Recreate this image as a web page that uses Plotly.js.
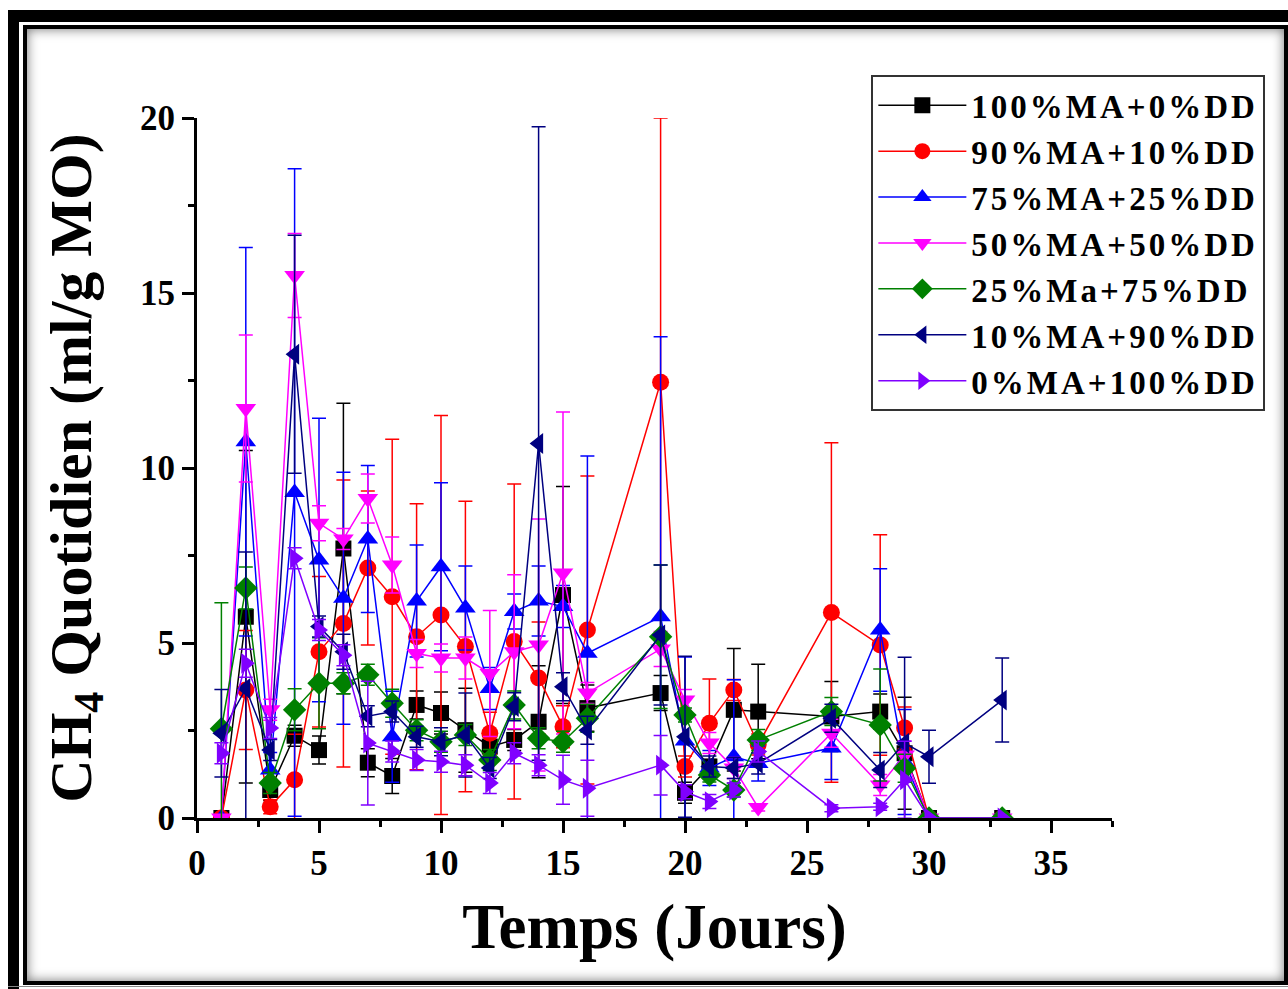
<!DOCTYPE html>
<html>
<head>
<meta charset="utf-8">
<script src="https://cdn.plot.ly/plotly-3.0.1.min.js"></script>
<style>
  html, body { margin: 0; padding: 0; background: #fff; }
  #wrap { position: relative; width: 1288px; height: 989px; overflow: hidden; }
  #chart { position: absolute; left: 0; top: 0; width: 1288px; height: 989px; }
  .frame { position: absolute; pointer-events: none; }
  .legendtext { letter-spacing: 3px; }
</style>
</head>
<body>
<div id="wrap">
  <div id="chart"></div>
  <div class="frame" style="left:8px; top:10px; width:11px; height:979px; background:#000;"></div>
  <div class="frame" style="left:8px; top:10px; width:1280px; height:12px; background:#000;"></div>
  <div class="frame" style="left:8px; top:986px; width:1280px; height:1px; background:#888;"></div>
  <div class="frame" style="left:23px; top:25px; width:1257px; height:952px; border:4px solid #000; box-shadow: inset 0 0 12px rgba(0,0,0,0.55);"></div>
</div>
<script>
// ---- data ----
const days = [1,2,3,4,5,6,7,8,9,10,11,12,13,14,15,16,19,20,21,22,23,26,28,29,30,33];

const seriesNames = ["100%MA+0%DD","90%MA+10%DD","75%MA+25%DD","50%MA+50%DD","25%Ma+75%DD","10%MA+90%DD","0%MA+100%DD"];

const ma100 = [0,5.75,0.8,2.35,1.94,7.7,1.58,1.2,3.23,3.0,2.51,2.04,2.23,2.75,6.37,3.14,3.57,0.72,1.47,3.09,3.04,2.9,3.04,1.85,0,0];
const ma100Err = [0,4.75,0.3,0.3,0.4,4.15,0.4,0.5,0.4,0.6,1.2,0.3,0.3,1.6,3.1,0.66,0.5,0.3,0.2,1.75,1.35,1.0,0.5,1.6,0,0];

const ma90 = [0,3.66,0.32,1.09,4.75,5.56,7.14,6.32,5.18,5.8,4.9,2.42,5.04,4.0,2.61,5.37,12.45,1.47,2.71,3.66,2.1,5.87,4.94,2.57,0,0];
const ma90Err = [0,1.7,0.2,1.3,2.15,4.1,2.2,4.5,3.8,5.7,4.15,0.6,4.5,1.6,0.6,4.4,7.55,0.3,1.26,0.3,0.3,4.85,3.15,0.6,0,0];

const ma75 = [0,10.75,1.37,9.3,7.37,6.28,7.97,2.32,6.2,7.18,6.0,3.7,5.9,6.2,6.04,4.71,5.75,2.2,1.43,1.75,1.56,2.0,5.37,1.6,0,0];
const ma75Err = [0,5.55,0.5,9.25,4.05,3.6,2.1,1.3,1.6,2.4,1.2,0.6,0.5,1.0,0.6,5.63,8.0,2.4,0.5,2.2,0.5,0.9,1.75,1.5,0,0];

const ma50 = [0,11.7,3.09,15.5,8.42,7.97,9.13,7.23,4.7,4.57,4.57,4.13,4.75,4.94,7.0,3.57,4.83,3.37,2.14,1.43,0.3,2.42,0.94,1.8,0,0];
const ma50Err = [0,2.1,0.3,1.2,0.5,0.3,0.7,0.8,0.4,0.4,0.6,1.8,2.2,3.6,4.6,0.3,0.5,0.3,0.3,0.3,0.1,0.4,0.3,0.4,0,0];

const ma25 = [2.55,6.57,1.0,3.09,3.85,3.85,4.09,3.28,2.51,2.18,2.37,1.66,3.23,2.28,2.18,2.85,5.18,2.94,1.23,0.8,2.23,3.04,2.66,1.42,0,0];
const ma25Err = [3.6,0.6,0.3,0.6,1.3,0.3,0.3,0.4,0.3,0.3,0.3,0.3,0.4,0.3,0.3,0.4,2.05,0.2,0.2,0.2,0.3,0.4,1.6,0.4,0,0];

const ma10 = [2.42,3.7,1.94,13.25,5.47,4.75,2.91,3.04,2.32,2.18,2.37,1.43,3.18,10.7,3.75,2.51,5.23,2.32,1.47,1.43,1.56,2.85,1.37,2.14,1.75,3.37];
const ma10Err = [1.25,3.9,0.3,3.4,0.3,0.5,0.3,0.3,0.3,0.4,1.2,0.3,0.4,9.05,0.4,0.4,2.0,2.3,0.3,0.3,0.3,0.4,0.5,2.45,0.76,1.2];

const ma0 = [1.85,4.42,2.57,7.42,5.37,4.65,2.14,1.9,1.66,1.61,1.51,1.0,1.85,1.51,1.09,0.85,1.51,0.75,0.47,0.8,1.9,0.28,0.32,1.09,0,0];
const ma0Err = [0.3,0.4,0.3,0.3,0.3,0.3,1.77,0.3,0.3,0.3,0.3,0.3,0.3,0.3,0.7,0.8,0.85,0.2,0.2,0.2,0.3,0.1,0.1,1.1,0,0];

const xTickVals = [0,5,10,15,20,25,30,35];
const yTickVals = [0,5,10,15,20];

// ---- styling ----
const colors = ["#000000","#FF0000","#0000FF","#FF00FF","#008000","#000080","#8000FF"];
const symbols = ["square","circle","triangle-up","triangle-down","diamond","triangle-left","triangle-right"];
const sizes = [16,17,18,18,18,18,18];
const vals = [ma100, ma90, ma75, ma50, ma25, ma10, ma0];
const errs = [ma100Err, ma90Err, ma75Err, ma50Err, ma25Err, ma10Err, ma0Err];

const traces = seriesNames.map((name, i) => ({
  type: "scatter",
  mode: "lines+markers",
  name: name,
  x: days,
  y: vals[i],
  error_y: { type: "data", array: errs[i], visible: true, color: colors[i], thickness: 1.5, width: 7 },
  line: { color: colors[i], width: 1.5 },
  marker: { color: colors[i], symbol: symbols[i], size: sizes[i], line: { width: 0 } },
  cliponaxis: true
}));

const serif = "'Liberation Serif', 'Times New Roman', serif";

const layout = {
  width: 1288,
  height: 989,
  margin: { l: 197, r: 175.5, t: 118, b: 171 },
  paper_bgcolor: "rgba(0,0,0,0)",
  plot_bgcolor: "#ffffff",
  showlegend: true,
  font: { family: serif, color: "#000" },
  xaxis: {
    range: [0, 37.5],
    tickvals: xTickVals,
    ticktext: xTickVals.map(String),
    ticks: "outside",
    ticklen: 12,
    tickwidth: 3,
    tickcolor: "#000",
    minor: { dtick: 2.5, tick0: 0, ticks: "outside", ticklen: 6, tickwidth: 3, tickcolor: "#000", showgrid: false },
    showline: true,
    linewidth: 3,
    linecolor: "#000",
    showgrid: false,
    zeroline: false,
    tickfont: { family: serif, size: 35, color: "#000", weight: "bold" },
    title: { text: "<b>Temps (Jours)</b>", font: { family: serif, size: 63, color: "#000" }, standoff: 22 },
    automargin: false
  },
  yaxis: {
    range: [0, 20],
    tickvals: yTickVals,
    ticktext: yTickVals.map(String),
    ticks: "outside",
    ticklen: 12,
    tickwidth: 3,
    tickcolor: "#000",
    minor: { dtick: 2.5, tick0: 0, ticks: "outside", ticklen: 6, tickwidth: 3, tickcolor: "#000", showgrid: false },
    showline: true,
    linewidth: 3,
    linecolor: "#000",
    showgrid: false,
    zeroline: false,
    tickfont: { family: serif, size: 35, color: "#000", weight: "bold" },
    title: { text: "<b>CH<sub>4</sub> Quotidien (ml/g MO)</b>", font: { family: serif, size: 60, color: "#000" }, standoff: 30 },
    automargin: false
  },
  legend: {
    x: 0.737, y: 1.061, xanchor: "left", yanchor: "top",
    bgcolor: "#ffffff",
    bordercolor: "#333",
    borderwidth: 2,
    font: { family: serif, size: 33, color: "#000", weight: "bold" },
    itemwidth: 88,
    tracegroupgap: 0
  }
};

Plotly.newPlot("chart", traces, layout, { displayModeBar: false, staticPlot: true });
</script>
</body>
</html>
